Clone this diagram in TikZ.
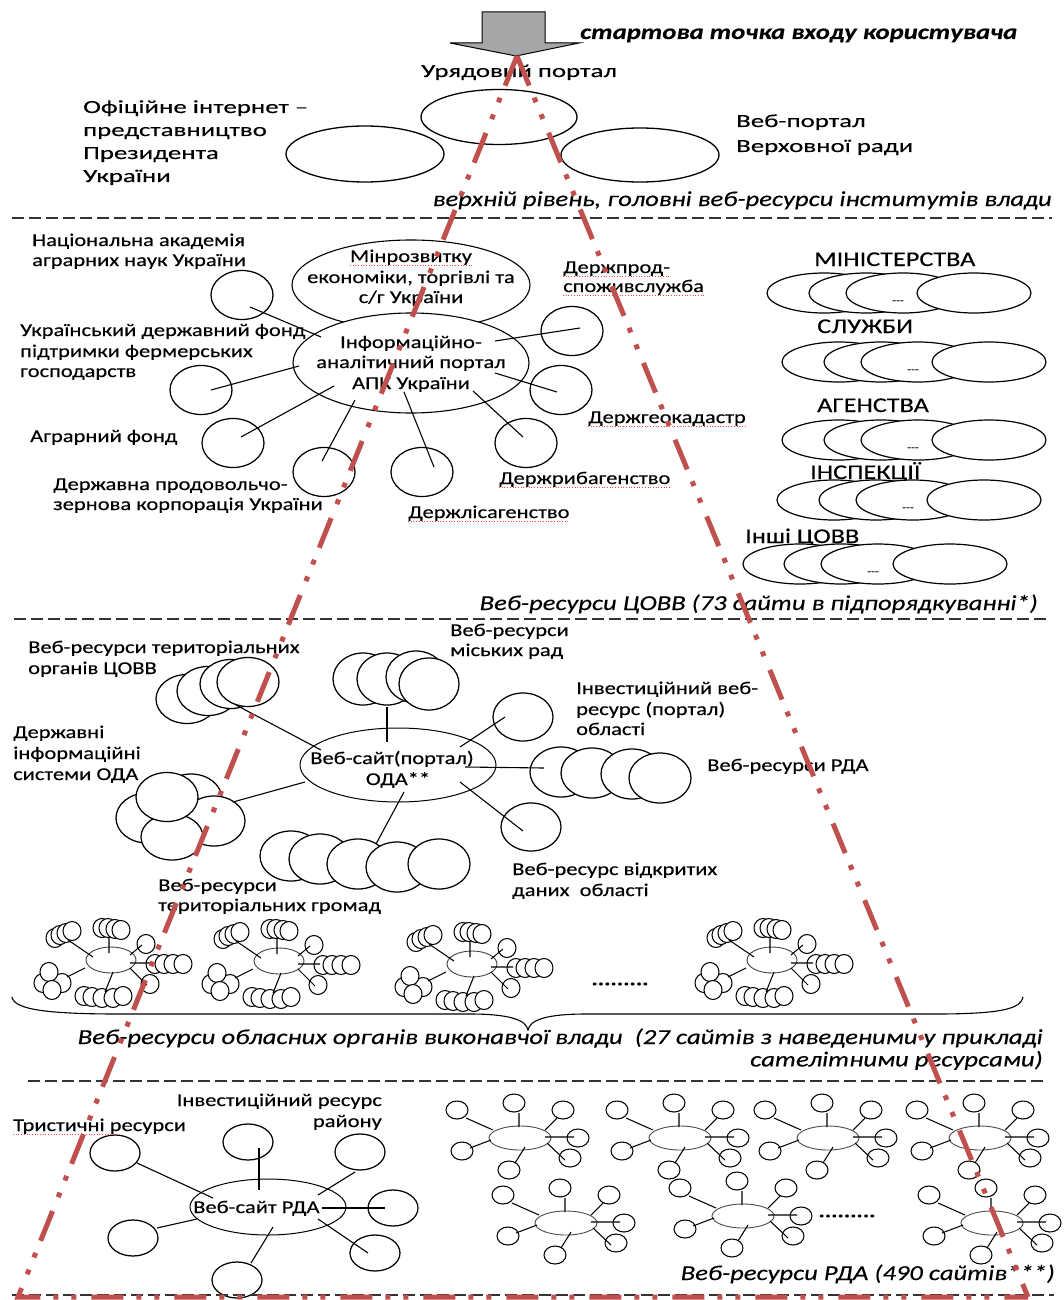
\documentclass[tikz,border=0pt]{standalone}
\usepackage{fontspec}
\setmainfont{Carlito}[FakeStretch=1.25, FakeBold=0.3]
\newfontfamily\fwide{Carlito}[FakeStretch=1.45, FakeBold=0.3]
\usetikzlibrary{shapes.geometric}
\definecolor{redl}{HTML}{C0504D}
\definecolor{arrg}{HTML}{A6A6A6}
\tikzset{
 lb/.style={inner sep=0pt, anchor=base west, font=\fontsize{18}{21}\selectfont},
 lbc/.style={lb, anchor=base},
 lbr/.style={lb, anchor=base east},
 tp/.style={inner sep=0pt, anchor=base west, font=\fwide\fontsize{18.5}{21}\selectfont},
 caps/.style={lb, font=\fontsize{21}{24}\selectfont},
 capt/.style={inner sep=0pt, anchor=base east},
 ov/.style={draw, ellipse, fill=white, inner sep=0pt, line width=1.1pt},
 sat/.style={ov, minimum width=62pt, minimum height=49pt, line width=1.25pt},
 mell/.style={ov, minimum width=114pt, minimum height=40pt, line width=1.2pt},
 dots/.style={inner sep=0pt, font=\fontsize{10}{10}\selectfont},
 conn/.style={line width=1.1pt},
 spell/.style={draw=red!75, line width=0.7pt, dotted},
 secline/.style={dash pattern=on 12pt off 5pt, line width=1.4pt, black!80},
 redline/.style={draw=redl, line width=5pt, dash pattern=on 32pt off 13pt on 5pt off 13pt on 5pt off 15pt},
 mini/.style={draw, fill=white, line width=1.05pt},
 obl/.pic={
  \draw[mini, draw=black!75, line width=0.9pt] (0,0) ellipse [x radius=25, y radius=13];
  \foreach \a/\b in {-56/-22,-51/-25,-45/-27,-39/-29,-9/-32,-3/-32,4/-31,10/-30,35/-16,44/4,53/4,62/4,72/4,39/24,-27/36,-19/37,-9/38,2/38,12/36,-68/23,-49/23,-62/12,-59/30}
    \draw[mini] (\a,\b) ellipse [x radius=9, y radius=9.5];
  \draw[mini] (-43,-20) -- (-18,-3) (-2,-23) -- (-2,-7) (31,-15) -- (19,-5) (19,3) -- (41,3) (19,8) -- (36,25) (2,12) -- (-6,32) (-44,17) -- (-26,8);
 },
 rdac/.pic={
  \draw[mini, draw=black!70, line width=0.9pt] (0,0) ellipse [x radius=31, y radius=12];
  \foreach \a/\b in {-63/-28,-6/-35,43/-28,58/0,50/20,-11/32,-58/13}
    \draw[mini] (\a,\b) ellipse [x radius=11, y radius=9];
  \draw[mini] (-54,-20) -- (-27,-8) (-1,-25) -- (-1,-11) (37,-20) -- (25,-8) (25,-1) -- (54,-1) (27,5) -- (45,22) (5,9) -- (-5,25) (-50,10) -- (-29,2);
 },
}
\begin{document}
\begin{tikzpicture}[x=1pt,y=-1pt]
\useasboundingbox (0,0) rectangle (1064,1300);
\fill[white] (0,0) rectangle (1064,1300);

% ---------- top section ----------
\draw[fill=arrg, line width=1pt] (482,12) -- (545,12) -- (545,43) -- (579,43) -- (516,56) -- (450,43) -- (482,43) -- cycle;
\node[capt, anchor=base west] (start) at (580,39) {\resizebox{437pt}{!}{\bfseries\itshape стартова точка входу користувача}};
\node[tp] (urpt) at (421,77) {Урядовий портал};
\node[ov, minimum width=156pt, minimum height=55pt, line width=1.3pt] (urp) at (499,117) {};
\node[ov, minimum width=158pt, minimum height=56pt, line width=1.3pt] (pres) at (365,154) {};
\node[ov, minimum width=158pt, minimum height=54pt, line width=1.3pt] (vr) at (640,155) {};
\node[tp] (prt1) at (83,113) {Офіційне інтернет –};
\node[tp] (prt2) at (83,136) {представництво};
\node[tp] (prt3) at (83,159) {Президента};
\node[tp] (prt4) at (83,182) {України};
\node[tp] (vrt1) at (736,127) {Веб-портал};
\node[tp] (vrt2) at (736,152) {Верховної ради};
\node[capt] (cap1) at (1052,206) {\resizebox{619pt}{!}{\itshape верхній рівень, головні веб-ресурси інститутів влади}};
\coordinate (d1a) at (12,218); \coordinate (d1b) at (1052,218);
\draw[secline] (d1a) -- (d1b);

% ---------- section 2 ----------
\node[ov, minimum width=238pt, minimum height=90pt] (minr) at (411,285) {};
\node[ov, minimum width=236pt, minimum height=100pt] (apk) at (411,363) {};
\node[lbc] (minrt1) at (411,262) {Мінрозвитку};
\node[lbc] (minrt2) at (411,283) {економіки, торгівлі та};
\node[lbc] (minrt3) at (411,303) {с/г України};
\node[lbc] (apkt1) at (411,348) {Інформаційно-};
\node[lbc] (apkt2) at (411,368) {аналітичний портал};
\node[lbc] (apkt3) at (411,389) {АПК України};

\node[sat] (s1) at (242,295) {};
\node[sat] (s2) at (201,390) {};
\node[sat] (s3) at (233,443) {};
\node[sat] (s4) at (324,472) {};
\node[sat] (s5) at (422,472) {};
\node[sat] (s6) at (526,443) {};
\node[sat] (s7) at (561,390) {};
\node[sat] (s8) at (572,331) {};
\draw[conn] ([shift={(8,12)}]s1.center) -- ([shift={(-90,-26)}]apk.center);
\draw[conn] ([shift={(10,0)}]s2.center) -- ([shift={(-112,3)}]apk.center);
\draw[conn] ([shift={(8,-6)}]s3.center) -- ([shift={(-77,23)}]apk.center);
\draw[conn] ([shift={(-2,-11)}]s4.center) -- ([shift={(-56,37)}]apk.center);
\draw[conn] ([shift={(12,-5)}]s5.center) -- ([shift={(-7,29)}]apk.center);
\draw[conn] ([shift={(-3,-6)}]s6.center) -- ([shift={(62,28)}]apk.center);
\draw[conn] ([shift={(-4,2)}]s7.center) -- ([shift={(84,10)}]apk.center);
\draw[conn] ([shift={(8,-3)}]s8.center) -- ([shift={(84,-22)}]apk.center);

\node[lb] (t1a) at (32,246) {Національна академія};
\node[lb] (t1b) at (32,266) {аграрних наук України};
\node[lb] (t2a) at (20,336) {Український державний фонд};
\node[lb] (t2b) at (20,357) {підтримки фермерських};
\node[lb] (t2c) at (20,377) {господарств};
\node[lb] (t3) at (30,442) {Аграрний фонд};
\node[lb] (t4a) at (53,490) {Державна продовольчо-};
\node[lb] (t4b) at (53,510) {зернова корпорація України};
\node[lb] (t5) at (408,518) {Держлісагенство};
\node[lb] (t6) at (499,484) {Держрибагенство};
\node[lb] (t7) at (588,423) {Держгеокадастр};
\node[lb] (t8a) at (563,273) {Держпрод-};
\node[lb] (t8b) at (563,292) {споживслужба};
\foreach \n in {minrt1,t5,t6,t7,t8a,t8b}
  \draw[spell] ([yshift=-3pt]\n.base west) -- ([yshift=-3pt]\n.base east);

% ministries etc.
\node[caps] (minl) at (814,266) {МІНІСТЕРСТВА};
\node[mell] (m11) at (824,293) {};
\node[mell] (m12) at (866,293) {};
\node[mell] (m13) at (903,293) {};
\node[mell] (m14) at (974,293) {};
\node[dots] (m1d) at (898,302) {{-}{-}{-}};
\node[caps] (sll) at (817,333) {СЛУЖБИ};
\node[mell] (m21) at (839,362) {};
\node[mell] (m22) at (881,362) {};
\node[mell] (m23) at (918,362) {};
\node[mell] (m24) at (989,362) {};
\node[dots] (m2d) at (913,371) {{-}{-}{-}};
\node[caps] (agl) at (817,412) {АГЕНСТВА};
\node[mell] (m31) at (839,440) {};
\node[mell] (m32) at (881,440) {};
\node[mell] (m33) at (918,440) {};
\node[mell] (m34) at (989,440) {};
\node[dots] (m3d) at (913,449) {{-}{-}{-}};
\node[caps] (insl) at (810,479) {ІНСПЕКЦІЇ};
\node[mell] (m41) at (834,500) {};
\node[mell] (m42) at (876,500) {};
\node[mell] (m43) at (913,500) {};
\node[mell] (m44) at (984,500) {};
\node[dots] (m4d) at (908,509) {{-}{-}{-}};
\node[caps] (inl) at (745,543) {Інші ЦОВВ};
\node[mell] (m51) at (800,564) {};
\node[mell] (m52) at (841,564) {};
\node[mell] (m53) at (878,564) {};
\node[mell] (m54) at (950,564) {};
\node[dots] (m5d) at (873,573) {{-}{-}{-}};

\node[capt] (cap2) at (1038,610) {\resizebox{558pt}{!}{\itshape Веб-ресурси ЦОВВ (73 сайти в підпорядкуванні*)}};
\coordinate (d2a) at (14,619); \coordinate (d2b) at (1050,619);
\draw[secline] (d2a) -- (d2b);

% ---------- section 3 ----------
\node[ov, minimum width=196pt, minimum height=74pt, line width=1pt] (oda) at (398,765) {};
\node[lbc] (odat1) at (392,764) {Веб-сайт(портал)};
\node[lbc] (odat2) at (398,785) {ОДА**};

\node[sat] (c1) at (187,699) {};
\node[sat] (c2) at (208,691) {};
\node[sat] (c3) at (231,684) {};
\node[sat] (c4) at (248,682) {};
\node[sat, minimum width=60pt, minimum height=52pt] (mr1) at (363,679) {};
\node[sat, minimum width=60pt, minimum height=52pt] (mr2) at (387,679) {};
\node[sat, minimum width=60pt, minimum height=52pt] (mr3) at (416,677) {};
\node[sat, minimum width=60pt, minimum height=52pt] (mr4) at (429,684) {};
\node[sat, minimum width=60pt, minimum height=48pt] (inv) at (523,717) {};
\node[sat, minimum height=50pt] (r1) at (561,772) {};
\node[sat, minimum height=50pt] (r2) at (592,773) {};
\node[sat, minimum height=50pt] (r3) at (632,774) {};
\node[sat, minimum height=50pt] (r4) at (660,778) {};
\node[sat, minimum width=60pt, minimum height=48pt] (vd) at (531,827) {};
\node[sat, minimum height=50pt] (ds1) at (147,818) {};
\node[sat, minimum height=50pt] (ds2) at (191,799) {};
\node[sat, minimum height=50pt] (ds3) at (214,821) {};
\node[sat, minimum height=46pt] (ds5) at (172,837) {};
\node[sat, minimum height=49pt] (ds4) at (167,797) {};
\node[sat, minimum height=50pt] (g1) at (291,856) {};
\node[sat, minimum height=50pt] (g2) at (320,859) {};
\node[sat, minimum height=50pt] (g3) at (358,864) {};
\node[sat, minimum height=50pt] (g4) at (397,867) {};
\node[sat, minimum height=50pt] (g5) at (439,864) {};

\draw[conn] ([shift={(-12,23)}]c4.center) -- ([shift={(-77,-15)}]oda.center);
\draw[conn] ([shift={(0,28)}]mr2.center) -- ([shift={(-11,-23)}]oda.center);
\draw[conn] ([shift={(-18,0)}]inv.center) -- ([shift={(62,-18)}]oda.center);
\draw[conn] ([shift={(-17,-4)}]r1.center) -- ([shift={(67,2)}]oda.center);
\draw[conn] ([shift={(-8,4)}]vd.center) -- ([shift={(62,17)}]oda.center);
\draw[conn] ([shift={(19,-19)}]ds3.center) -- ([shift={(-93,17)}]oda.center);
\draw[conn] ([shift={(18,-20)}]g3.center) -- ([shift={(6,27)}]oda.center);

\node[lb] (u1a) at (28,653) {Веб-ресурси територіальних};
\node[lb] (u1b) at (28,674) {органів ЦОВВ};
\node[lb] (u2a) at (450,636) {Веб-ресурси};
\node[lb] (u2b) at (450,656) {міських рад};
\node[lb] (u3a) at (576,694) {Інвестиційний веб-};
\node[lb] (u3b) at (576,715) {ресурс (портал)};
\node[lb] (u3c) at (576,735) {області};
\node[lb] (u4) at (707,771) {Веб-ресурси РДА};
\node[lb] (u5a) at (13,738) {Державні};
\node[lb] (u5b) at (13,759) {інформаційні};
\node[lb] (u5c) at (13,780) {системи ОДА};
\node[lb] (u6a) at (512,875) {Веб-ресурс відкритих};
\node[lb] (u6b) at (512,896) {даних~ області};
\node[lb] (u7a) at (158,891) {Веб-ресурси};
\node[lb] (u7b) at (158,911) {територіальних громад};

% mini oblast clusters
\pic (o1) at (111,960) {obl};
\pic (o2) at (279,961) {obl};
\pic (o3) at (472,964) {obl};
\pic (o4) at (772,960) {obl};
\node[inner sep=0pt, font=\bfseries\fontsize{19}{19}\selectfont] (odots) at (620,984) {.........};

% brace
\coordinate (bl) at (12,997); \coordinate (br) at (1023,997); \coordinate (btip) at (528,1030);
\draw[line width=1.1pt] (bl) .. controls (14,1010) and (50,1014) .. (120,1014) -- (470,1014) .. controls (510,1014) and (526,1020) .. (btip) .. controls (530,1020) and (546,1014) .. (586,1014) -- (935,1014) .. controls (1005,1014) and (1021,1008) .. (br);

\node[capt] (cap3) at (1043,1044) {\resizebox{965pt}{!}{\itshape\begin{tabular}[t]{@{}r@{}}Веб-ресурси обласних органів виконавчої влади~ (27 сайтів з наведеними у прикладі\\[-1.5pt] сателітними ресурсами)\end{tabular}}};
\coordinate (d3a) at (28,1081); \coordinate (d3b) at (1046,1081);
\draw[secline] (d3a) -- (d3b);

% ---------- section 4 ----------
\node[ov, minimum width=156pt, minimum height=56pt, line width=1pt] (rda) at (268,1207) {};
\node[lb] (rdat) at (193,1213) {Веб-сайт РДА};
\node[sat, minimum width=50pt, minimum height=36pt] (q1) at (115,1153) {};
\node[sat, minimum width=50pt, minimum height=36pt] (q2) at (248,1142) {};
\node[sat, minimum width=50pt, minimum height=36pt] (q3) at (360,1152) {};
\node[sat, minimum width=50pt, minimum height=36pt] (q4) at (393,1208) {};
\node[sat, minimum width=50pt, minimum height=36pt] (q5) at (375,1253) {};
\node[sat, minimum width=50pt, minimum height=36pt] (q6) at (237,1280) {};
\node[sat, minimum width=50pt, minimum height=36pt] (q7) at (133,1238) {};
\draw[conn] ([shift={(22,10)}]q1.center) -- ([shift={(-55,-9)}]rda.center);
\draw[conn] ([shift={(11,6)}]q2.center) -- ([shift={(-9,-17)}]rda.center);
\draw[conn] ([shift={(-5,20)}]q3.center) -- ([shift={(50,-12)}]rda.center);
\draw[conn] ([shift={(-8,0)}]q4.center) -- ([shift={(54,1)}]rda.center);
\draw[conn] ([shift={(-7,0)}]q5.center) -- ([shift={(50,12)}]rda.center);
\draw[conn] ([shift={(14,-17)}]q6.center) -- ([shift={(5,20)}]rda.center);
\draw[conn] ([shift={(24,-10)}]q7.center) -- ([shift={(-71,12)}]rda.center);
\node[lb] (w1) at (13,1131) {Тристичні ресурси};
\node[lbr] (w2a) at (382,1106) {Інвестиційний ресурс};
\node[lbr] (w2b) at (382,1127) {району};
\draw[spell] ([yshift=-3pt]w1.base west) -- ([xshift=-68pt,yshift=-3pt]w1.base east);

\pic (pa) at (520,1138) {rdac};
\pic (pb) at (680,1138) {rdac};
\pic (pc) at (828,1138) {rdac};
\pic (pd) at (980,1138) {rdac};
\pic (pe) at (566,1223) {rdac};
\pic (pf) at (743,1216) {rdac};
\pic (pg) at (992,1223) {rdac};
\node[inner sep=0pt, font=\bfseries\fontsize{19}{19}\selectfont] (rdots) at (847,1216) {.........};
\node[capt] (cap4) at (1055,1280) {\resizebox{374pt}{!}{\itshape Веб-ресурси РДА (490 сайтів***)}};
\coordinate (d4a) at (12,1295); \coordinate (d4b) at (1054,1295);
\draw[secline] (d4a) -- (d4b);

% ---------- red triangle ----------
\coordinate (apex) at (517,56);
\coordinate (rbl) at (18,1297);
\coordinate (rbr) at (1028,1297);
\draw[redline] (apex) -- (rbl) -- (rbr);
\draw[redline] (apex) -- (rbr);
\end{tikzpicture}
\end{document}
